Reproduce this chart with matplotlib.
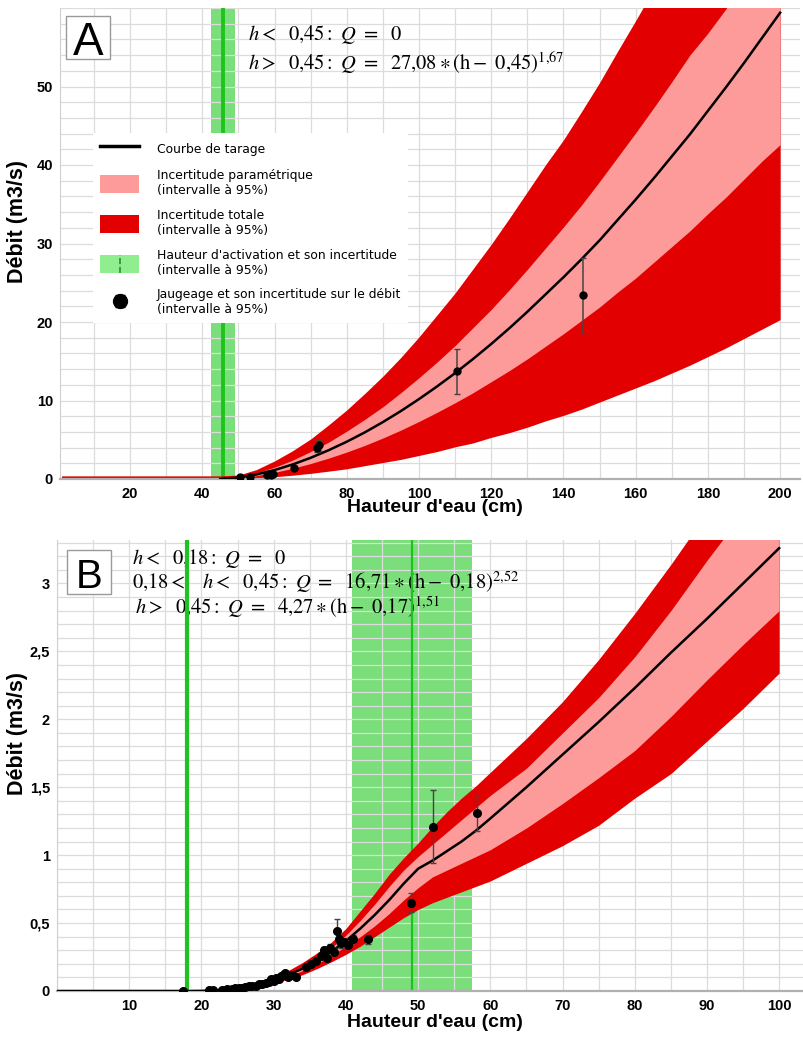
import numpy as np
import matplotlib
matplotlib.use("Agg")
import matplotlib.pyplot as plt
from matplotlib.patches import Patch, Rectangle
from matplotlib.lines import Line2D
from matplotlib.legend_handler import HandlerPatch
from matplotlib.ticker import MultipleLocator

# ---- Panel A: rating curve (h in cm, Q in m3/s) ----
a_h = [1, 45, 50, 55, 60, 65, 70, 75, 80, 85, 90, 95, 100, 105, 110, 115, 120,
       125, 130, 135, 140, 145, 150, 155, 160, 165, 170, 175, 180, 185, 190, 195, 200]
a_curve = [0, 0, 0.18, 0.58, 1.14, 1.85, 2.70, 3.67, 4.75, 5.94, 7.25, 8.66, 10.18,
           11.79, 13.49, 15.3, 17.2, 19.2, 21.3, 23.5, 25.7, 28.0, 30.4, 33.0, 35.6,
           38.3, 41.1, 43.9, 46.9, 49.9, 53.0, 56.2, 59.4]
a_par_hi = [0.15, 0.15, 0.25, 0.78, 1.5, 2.4, 3.5, 4.7, 6.1, 7.6, 9.2, 11.0, 12.9,
            14.9, 17.0, 19.3, 21.6, 24.1, 26.7, 29.4, 32.1, 34.9, 37.9, 41.0, 44.1,
            47.3, 50.6, 54.0, 56.8, 59.9, 63.6, 67.4, 71.3]
a_par_lo = [0, 0, 0.13, 0.43, 0.84, 1.36, 1.97, 2.66, 3.43, 4.28, 5.22, 6.23, 7.33,
            8.49, 9.71, 11.0, 12.4, 13.8, 15.3, 16.9, 18.5, 20.2, 21.9, 23.8, 25.6,
            27.6, 29.6, 31.6, 33.8, 35.9, 38.2, 40.5, 42.6]
a_tot_hi = [0.4, 0.4, 0.5, 1.2, 2.3, 3.6, 5.1, 6.9, 8.8, 10.9, 13.1, 15.5, 18.1,
            20.9, 23.7, 26.8, 29.9, 33.2, 36.6, 40.0, 43.2, 46.8, 50.5, 54.5, 58.4,
            62.4, 66.6, 70.8, 75.0, 79.3, 83.7, 88.2, 92.7]
a_tot_lo = [0, 0, 0.04, 0.14, 0.29, 0.48, 0.72, 1.0, 1.3, 1.7, 2.1, 2.5, 3.0,
            3.5, 4.1, 4.6, 5.3, 5.9, 6.6, 7.4, 8.1, 8.9, 9.8, 10.7, 11.6,
            12.5, 13.5, 14.5, 15.6, 16.7, 17.9, 19.1, 20.3]
a_act, a_act_lo, a_act_hi = 45.8, 42.4, 49.0

# gaugings A
pa_h = [50.4, 53.2, 57.8, 59.0, 59.6, 65.4, 71.8, 72.2, 110.5, 145.3]
pa_q = [0.2, 0.3, 0.45, 0.55, 0.6, 1.45, 3.9, 4.3, 13.7, 23.4]
pa_err = [0.05, 0.05, 0.08, 0.1, 0.1, 0.15, 0.5, 0.7, 2.85, 4.75]

# ---- Panel B ----
b_h = [0, 18, 20, 22, 24, 26, 28, 30, 32, 34, 36, 38, 40, 42, 44, 46, 48, 50,
       52, 54, 56, 58, 60, 65, 70, 75, 80, 85, 90, 95, 100]
b_curve = [0, 0, 0.001, 0.005, 0.014, 0.029, 0.050, 0.080, 0.118, 0.165, 0.222,
           0.289, 0.368, 0.46, 0.56, 0.67, 0.79, 0.90, 0.96, 1.03, 1.10, 1.18,
           1.27, 1.50, 1.74, 1.98, 2.23, 2.49, 2.74, 3.00, 3.26]
b_tot_hi = [0, 0, 0.002, 0.008, 0.02, 0.04, 0.065, 0.10, 0.15, 0.21, 0.28, 0.36,
            0.46, 0.59, 0.72, 0.86, 0.98, 1.09, 1.21, 1.32, 1.42, 1.51, 1.61,
            1.86, 2.13, 2.44, 2.78, 3.14, 3.52, 3.92, 4.32]
b_par_hi = [0, 0, 0.001, 0.006, 0.016, 0.033, 0.056, 0.088, 0.13, 0.18, 0.245,
            0.32, 0.41, 0.52, 0.64, 0.77, 0.89, 0.99, 1.08, 1.17, 1.26, 1.35,
            1.44, 1.64, 1.90, 2.16, 2.46, 2.80, 3.17, 3.52, 3.88]
b_par_lo = [0, 0, 0, 0.004, 0.012, 0.025, 0.044, 0.072, 0.106, 0.15, 0.20, 0.26,
            0.33, 0.40, 0.48, 0.57, 0.67, 0.76, 0.84, 0.89, 0.94, 0.99, 1.04,
            1.20, 1.38, 1.57, 1.77, 2.02, 2.29, 2.55, 2.80]
b_tot_lo = [0, 0, 0, 0.003, 0.009, 0.02, 0.036, 0.058, 0.087, 0.12, 0.165,
            0.215, 0.27, 0.33, 0.40, 0.47, 0.54, 0.60, 0.65, 0.69, 0.73, 0.77,
            0.81, 0.94, 1.07, 1.22, 1.42, 1.60, 1.84, 2.08, 2.34]
b_act1 = 18.0
b_act2, b_act2_lo, b_act2_hi = 49.1, 40.8, 57.4

# gaugings B
pb_h = [17.5, 21.0, 21.6, 22.8, 23.6, 24.2, 24.7, 25.2, 25.6, 26.1, 26.6, 27.0,
        27.5, 28.0, 28.4, 28.9, 29.3, 29.7, 30.0, 30.3, 30.7, 31.0, 31.3, 31.6,
        32.0, 32.6, 33.1, 34.5, 35.2, 35.9, 36.5, 37.0, 37.4, 37.8, 38.3, 38.8,
        39.0, 39.3, 39.8, 40.3, 41.0, 43.0, 49.0, 52.1, 58.1]
pb_q = [0.0, 0.005, 0.008, 0.010, 0.014, 0.018, 0.020, 0.025, 0.024, 0.030,
        0.034, 0.040, 0.038, 0.048, 0.055, 0.060, 0.068, 0.085, 0.075, 0.095,
        0.090, 0.11, 0.12, 0.13, 0.105, 0.12, 0.10, 0.18, 0.20, 0.22, 0.26, 0.30,
        0.24, 0.32, 0.29, 0.44, 0.38, 0.35, 0.36, 0.34, 0.38, 0.38, 0.65, 1.21, 1.31]
pb_err = [0.002, 0.002, 0.002, 0.002, 0.002, 0.002, 0.002, 0.003, 0.003, 0.003,
          0.003, 0.004, 0.004, 0.005, 0.005, 0.006, 0.006, 0.008, 0.008, 0.009,
          0.009, 0.01, 0.01, 0.012, 0.01, 0.012, 0.01, 0.016, 0.018, 0.02, 0.02,
          0.025, 0.02, 0.025, 0.025, 0.09, 0.03, 0.03, 0.03, 0.03, 0.03, 0.035,
          0.07, 0.27, 0.13]

a_xticks = [20, 40, 60, 80, 100, 120, 140, 160, 180, 200]
a_yticks = [0, 10, 20, 30, 40, 50]
b_xticks = [10, 20, 30, 40, 50, 60, 70, 80, 90, 100]
b_yticks = [0, 0.5, 1, 1.5, 2, 2.5, 3]
b_yticklabels = ["0", "0,5", "1", "1,5", "2", "2,5", "3"]

RED = "#e30000"
PINK = "#fd9a9a"
GREEN_BAND = "#7ade7a"
GREEN_LINE = "#1fc21f"
EQ_SIZE = 14.8

plt.rcParams["mathtext.fontset"] = "stix"

W, H = 804, 1038
fig = plt.figure(figsize=(W / 100, H / 100), dpi=100)


def add_axes_px(left, top, right, bottom):
    return fig.add_axes([left / W, 1 - bottom / H, (right - left) / W, (bottom - top) / H])


def style(ax):
    ax.set_axisbelow(True)
    ax.grid(which="both", color="#dcdcdc", lw=0.9)
    for s in ("top", "right"):
        ax.spines[s].set_visible(False)
    ax.spines["bottom"].set_color("#b0b0b0")
    ax.spines["bottom"].set_linewidth(1.6)
    ax.spines["left"].set_color("#d0d0d0")
    ax.tick_params(which="both", length=0)
    ax.tick_params(axis="x", pad=6)
    ax.tick_params(axis="y", pad=5)
    for lab in ax.get_xticklabels() + ax.get_yticklabels():
        lab.set_fontweight("bold")
        lab.set_fontfamily("Liberation Sans")
        lab.set_fontsize(10.5)
    ax.set_xlabel("Hauteur d'eau (cm)", fontsize=14, fontweight="bold", family="Liberation Sans")
    ax.set_ylabel("Débit (m3/s)", fontsize=15.5, fontweight="bold", family="Liberation Sans")


def panel_letter(letter, left, top, right, bottom, size, baseline):
    fig.patches.append(Rectangle((left / W, 1 - bottom / H), (right - left) / W, (bottom - top) / H,
                                 transform=fig.transFigure, facecolor="white",
                                 edgecolor="#999999", lw=1, zorder=5))
    fig.text((left + right) / 2 / W, 1 - baseline / H, letter, ha="center", va="baseline",
             fontsize=size, family="Liberation Sans", zorder=6)


class HandlerActivation(HandlerPatch):
    def create_artists(self, legend, orig_handle, xdescent, ydescent, width, height, fontsize, trans):
        r = Rectangle((-xdescent, -ydescent), width, height, facecolor="#90ee90",
                      edgecolor="none", transform=trans)
        x = width / 2 - xdescent
        l = Line2D([x, x], [-ydescent, height - ydescent], color="#2e8b2e", ls="--",
                   lw=1.2, transform=trans)
        return [r, l]


# ---------------- Panel A ----------------
axA = add_axes_px(60, 8, 800, 479)
axA.axvspan(a_act_lo, a_act_hi, color=GREEN_BAND, lw=0, zorder=0.2)
axA.axvline(a_act, color=GREEN_LINE, lw=2.8, zorder=0.6)
axA.fill_between(a_h, a_tot_lo, a_tot_hi, color=RED, lw=0, zorder=1)
axA.fill_between(a_h, a_par_lo, a_par_hi, color=PINK, lw=0, zorder=1.1)
axA.plot(a_h[1:], a_curve[1:], color="black", lw=1.8, zorder=3)
axA.errorbar(pa_h, pa_q, yerr=pa_err, fmt="o", ms=5, color="black", ecolor="#444444",
             elinewidth=1.1, capsize=2, zorder=4)
axA.set_xlim(0.6, 205.5)
axA.set_ylim(0, 60)
axA.set_xticks(a_xticks)
axA.set_yticks(a_yticks)
axA.xaxis.set_minor_locator(MultipleLocator(10))
axA.yaxis.set_minor_locator(MultipleLocator(2))
style(axA)
axA.xaxis.set_label_coords(0.507, -0.043)
axA.yaxis.set_label_coords(-0.043, 0.546)

h_jaug = axA.errorbar([np.nan], [np.nan], yerr=[1], fmt="o", ms=10, color="black",
                      ecolor="black", elinewidth=1.3, capsize=3.5)
handles = [Line2D([], [], color="black", lw=2.5),
           Patch(facecolor=PINK, edgecolor="none"),
           Patch(facecolor=RED, edgecolor="none"),
           Patch(facecolor="#90ee90"),
           h_jaug]
labels = ["Courbe de tarage",
          "Incertitude paramétrique\n(intervalle à 95%)",
          "Incertitude totale\n(intervalle à 95%)",
          "Hauteur d'activation et son incertitude\n(intervalle à 95%)",
          "Jaugeage et son incertitude sur le débit\n(intervalle à 95%)"]
leg = axA.legend(handles, labels, loc="upper left", bbox_to_anchor=(0.045, 0.735),
                 borderaxespad=0, prop={"family": "DejaVu Sans", "size": 8.9},
                 handlelength=3.15, handleheight=1.85, handletextpad=1.45, labelspacing=0.95,
                 borderpad=0.55, frameon=True, fancybox=False, framealpha=1,
                 facecolor="white", edgecolor="none",
                 handler_map={handles[3]: HandlerActivation()})

axA.text(248 / W, 1 - 40 / H, r"$h<\ \ 0{,}45:\ Q\ =\ \ 0$", transform=fig.transFigure,
         fontsize=EQ_SIZE, va="baseline", zorder=0.55)
axA.text(248 / W, 1 - 70 / H, r"$h>\ \ 0{,}45:\ Q\ =\ \ 27{,}08\ast(\mathrm{h}-\ 0{,}45)^{1{,}67}$",
         transform=fig.transFigure, fontsize=EQ_SIZE, va="baseline", zorder=0.55)

# ---------------- Panel B ----------------
axB = add_axes_px(57, 540, 803, 991)
axB.axvspan(b_act2_lo, b_act2_hi, color=GREEN_BAND, lw=0, zorder=0.2)
axB.axvline(b_act1, color=GREEN_LINE, lw=3, zorder=0.6)
axB.axvline(b_act2, color=GREEN_LINE, lw=1.6, zorder=0.6)
axB.fill_between(b_h, b_tot_lo, b_tot_hi, color=RED, lw=0, zorder=1)
axB.fill_between(b_h, b_par_lo, b_par_hi, color=PINK, lw=0, zorder=1.1)
axB.plot(b_h, b_curve, color="black", lw=1.8, zorder=3)
axB.errorbar(pb_h, pb_q, yerr=pb_err, fmt="o", ms=5.5, color="black", ecolor="#444444",
             elinewidth=1.0, capsize=2, zorder=4)
axB.set_xlim(0, 103.3)
axB.set_ylim(0, 3.32)
axB.set_xticks(b_xticks)
axB.set_yticks(b_yticks, b_yticklabels)
axB.xaxis.set_minor_locator(MultipleLocator(5))
axB.yaxis.set_minor_locator(MultipleLocator(0.1))
style(axB)
axB.xaxis.set_label_coords(0.507, -0.052)
axB.yaxis.set_label_coords(-0.039, 0.57)

axB.text(132 / W, 1 - 564 / H, r"$h<\ \ 0{,}18:\ Q\ =\ \ 0$", transform=fig.transFigure,
         fontsize=EQ_SIZE, va="baseline", zorder=0.55)
axB.text(132 / W, 1 - 589 / H,
         r"$0{,}18<\ \ \ h<\ \ 0{,}45:\ Q\ =\ \ 16{,}71\ast(\mathrm{h}-\ 0{,}18)^{2{,}52}$",
         transform=fig.transFigure, fontsize=EQ_SIZE, va="baseline", zorder=0.55)
axB.text(135 / W, 1 - 614 / H, r"$h>\ \ 0{,}45:\ Q\ =\ \ 4{,}27\ast(\mathrm{h}-\ 0{,}17)^{1{,}51}$",
         transform=fig.transFigure, fontsize=EQ_SIZE, va="baseline", zorder=0.55)

panel_letter("A", 66, 16, 110, 59, 33, 55)
panel_letter("B", 67, 550, 111, 594, 29, 588)

fig.savefig("out.png", dpi=100)
